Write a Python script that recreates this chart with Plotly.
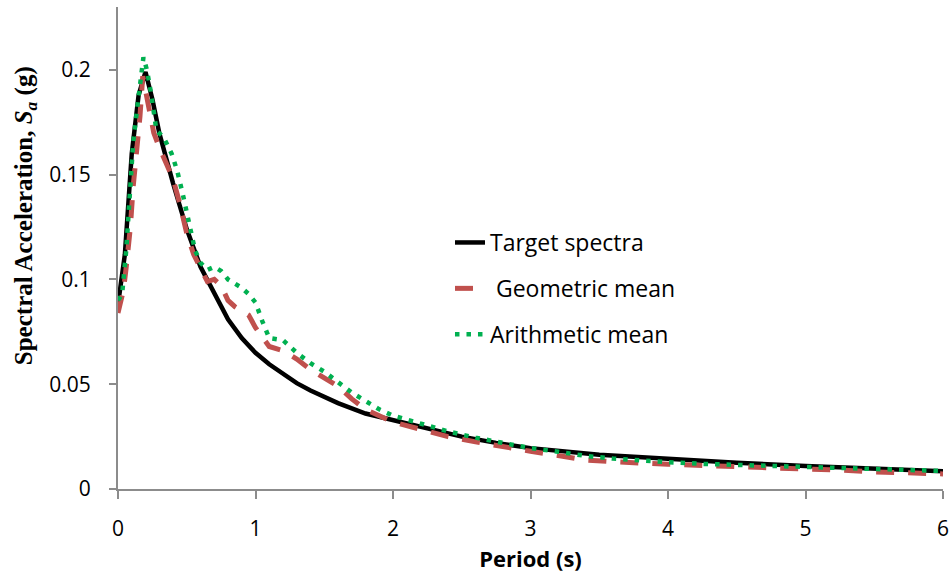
import plotly.graph_objects as go

# Target spectrum
target_T = [0, 0.05, 0.1, 0.15, 0.2, 0.25, 0.3, 0.35, 0.4, 0.45, 0.5, 0.6, 0.7, 0.8, 0.9, 1.0,
            1.1, 1.2, 1.3, 1.4, 1.6, 1.8, 2.0, 2.25, 2.5, 2.75, 3.0, 3.5, 4.0, 4.5, 5.0, 5.5, 6.0]
target_Sa = [0.088, 0.112, 0.160, 0.188, 0.199, 0.186, 0.170, 0.157, 0.146, 0.135, 0.124, 0.106,
             0.094, 0.081, 0.072, 0.065, 0.0595, 0.055, 0.0505, 0.047, 0.041, 0.036, 0.033,
             0.029, 0.025, 0.022, 0.0195, 0.0163, 0.0142, 0.0125, 0.0110, 0.0097, 0.0085]

# Geometric mean
geo_T = [0, 0.04, 0.06, 0.09, 0.11, 0.14, 0.16, 0.18, 0.2, 0.22, 0.26, 0.3, 0.35, 0.4, 0.45, 0.5,
         0.55, 0.6, 0.65, 0.7, 0.75, 0.8, 0.85, 0.9, 0.95, 1.0, 1.1, 1.2, 1.3, 1.4, 1.5, 1.6,
         1.7, 1.8, 1.9, 2.0, 2.2, 2.4, 2.6, 2.8, 3.0, 3.2, 3.4, 3.6, 3.8, 4.0, 4.25, 4.5, 4.75,
         5.0, 5.25, 5.5, 5.75, 6.0]
geo_Sa = [0.084, 0.095, 0.106, 0.125, 0.144, 0.163, 0.178, 0.197, 0.190, 0.182, 0.170, 0.163,
          0.156, 0.148, 0.136, 0.122, 0.112, 0.106, 0.099, 0.100, 0.097, 0.090, 0.087, 0.085,
          0.083, 0.077, 0.068, 0.066, 0.062, 0.057, 0.053, 0.049, 0.043, 0.038, 0.035, 0.032,
          0.0285, 0.025, 0.0225, 0.020, 0.018, 0.016, 0.0138, 0.013, 0.0122, 0.0118, 0.0112,
          0.0108, 0.0102, 0.0097, 0.0090, 0.0082, 0.0076, 0.0072]

# Arithmetic mean
ari_T = [0, 0.03, 0.06, 0.09, 0.11, 0.14, 0.16, 0.185, 0.21, 0.24, 0.28, 0.33, 0.39, 0.43, 0.47,
         0.51, 0.56, 0.6, 0.65, 0.7, 0.75, 0.8, 0.85, 0.9, 0.95, 1.0, 1.05, 1.1, 1.2, 1.3, 1.4,
         1.5, 1.6, 1.7, 1.8, 1.9, 2.0, 2.2, 2.4, 2.6, 2.8, 3.0, 3.2, 3.4, 3.6, 3.8, 4.0, 4.25,
         4.5, 4.75, 5.0, 5.25, 5.5, 5.75, 6.0]
ari_Sa = [0.090, 0.093, 0.114, 0.150, 0.165, 0.182, 0.194, 0.206, 0.200, 0.189, 0.171, 0.168,
          0.160, 0.152, 0.141, 0.130, 0.114, 0.108, 0.1045, 0.106, 0.104, 0.100, 0.098, 0.096,
          0.093, 0.089, 0.080, 0.072, 0.071, 0.065, 0.060, 0.056, 0.051, 0.046, 0.042, 0.038,
          0.035, 0.031, 0.0275, 0.0245, 0.022, 0.0195, 0.0178, 0.0158, 0.0145, 0.0135, 0.0128,
          0.0120, 0.0115, 0.0110, 0.0106, 0.0100, 0.0094, 0.0090, 0.0086]

x_ticks = [0, 1, 2, 3, 4, 5, 6]
y_ticks = [0, 0.05, 0.1, 0.15, 0.2]
y_tick_text = ["0", "0.05", "0.1", "0.15", "0.2"]

fig = go.Figure()
fig.add_trace(go.Scatter(x=target_T, y=target_Sa, mode="lines", name="Target spectra",
                         legendgroup="a", line=dict(color="#000000", width=4.5)))
fig.add_trace(go.Scatter(x=geo_T, y=geo_Sa, mode="lines", name=" Geometric mean",
                         legendgroup="b", line=dict(color="#C0504D", width=5, dash="18px,14px")))
fig.add_trace(go.Scatter(x=ari_T, y=ari_Sa, mode="lines", name="Arithmetic mean",
                         legendgroup="c", line=dict(color="#00B050", width=4.5, dash="4.5px,7px")))

tick_font = dict(family="Open Sans", size=21, color="#000000")
fig.update_layout(
    width=951, height=580,
    margin=dict(l=118, r=8, t=7, b=91, autoexpand=False),
    paper_bgcolor="white", plot_bgcolor="white",
    showlegend=True,
    legend=dict(x=0.4024, y=0.556, xanchor="left", yanchor="top",
                font=dict(family="Open Sans", size=23, color="#000000"),
                tracegroupgap=13, bgcolor="rgba(0,0,0,0)"),
    xaxis=dict(range=[0, 6], tickvals=x_ticks, ticks="outside", ticklen=8, tickwidth=2,
               tickcolor="#8C8C8C", showline=True, linecolor="#8C8C8C", linewidth=2,
               showgrid=False, zeroline=False, tickfont=tick_font, ticklabelstandoff=12,
               automargin=False,
               title=dict(text="<b>Period (s)</b>", font=dict(family="Open Sans", size=22, color="#000000"),
                          standoff=10)),
    yaxis=dict(range=[0, 0.23], tickvals=y_ticks, ticktext=y_tick_text, ticks="outside",
               ticklen=7, tickwidth=2, tickcolor="#8C8C8C", showline=True, linecolor="#8C8C8C",
               linewidth=2, showgrid=False, zeroline=False, tickfont=tick_font,
               ticklabelstandoff=14, automargin=False),
    annotations=[dict(text="<b>Spectral Acceleration, <i>S<sub>a</sub></i> (g)</b>",
                      xref="paper", yref="paper", x=-118/825 + 25/825, y=0.566,
                      xanchor="center", yanchor="middle", textangle=-90, showarrow=False,
                      font=dict(family="Liberation Serif", size=25, color="#000000"))],
)
fig.write_html("out.html")
